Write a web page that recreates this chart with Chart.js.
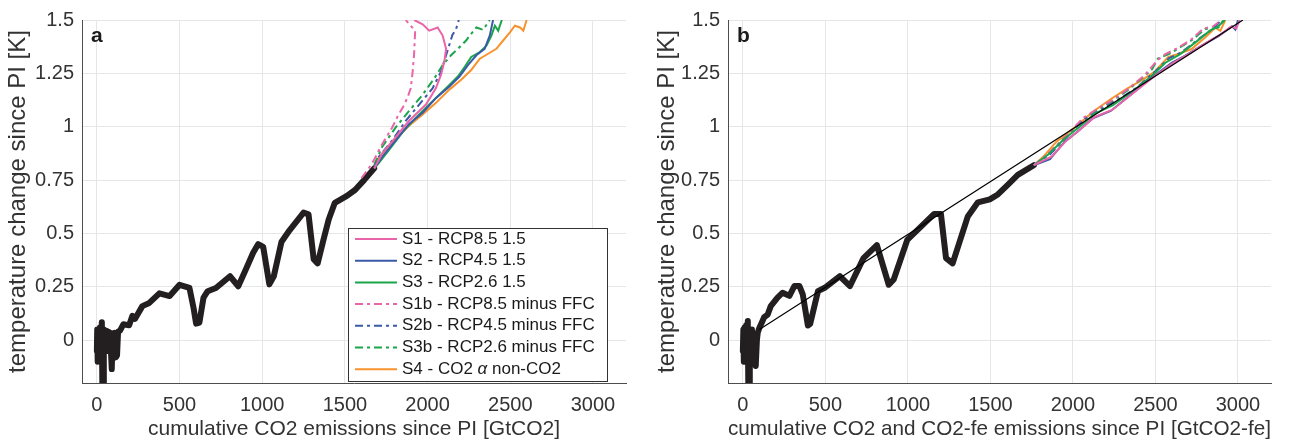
<!DOCTYPE html>
<html>
<head>
<meta charset="utf-8">
<script src="https://cdn.jsdelivr.net/npm/chart.js@4.4.1/dist/chart.umd.min.js"></script>
<style>
  body { margin: 0; background: #fff; width: 1294px; height: 444px; overflow: hidden; position: relative; }
  .panel { position: absolute; top: 0; height: 444px; }
  #panelA { left: 0; width: 646px; }
  #panelB { left: 652px; width: 642px; }
</style>
</head>
<body>
<div class="panel" id="panelA"><canvas id="chartA"></canvas></div>
<div class="panel" id="panelB"><canvas id="chartB"></canvas></div>
<script>
// axes
const xTicks = [0, 500, 1000, 1500, 2000, 2500, 3000];
const xTickLabels = ['0', '500', '1000', '1500', '2000', '2500', '3000'];
const yTicks = [0, 0.25, 0.5, 0.75, 1, 1.25, 1.5];
const yTickLabels = ['0', '0.25', '0.5', '0.75', '1', '1.25', '1.5'];
const xMin = -90, xMax = 3200, yMin = -0.2, yMax = 1.5;

const seriesNames = [
  'S1 - RCP8.5 1.5', 'S2 - RCP4.5 1.5', 'S3 - RCP2.6 1.5',
  'S1b - RCP8.5 minus FFC', 'S2b - RCP4.5 minus FFC', 'S3b - RCP2.6 minus FFC',
  'S4 - CO2 α non-CO2'
];

// panel a : historical (GtCO2, K)
const histA = [[0,-0.05],[2,0.05],[5,-0.1],[8,0.04],[12,-0.09],[18,0.06],[24,-0.02],[30,0.085],[33,-0.2],[38,-0.2],
  [42,0.05],[50,-0.02],[58,0.045],[63,-0.05],[70,0.04],[80,0.035],[90,-0.135],[95,0.03],[105,0.035],[115,-0.08],
  [122,-0.07],[128,0.04],[140,0.045],[160,0.075],[195,0.07],[215,0.115],[230,0.1],[275,0.16],[317,0.175],[378,0.22],
  [440,0.207],[500,0.26],[560,0.245],[585,0.15],[600,0.078],[620,0.083],[645,0.2],[670,0.23],[720,0.245],[805,0.3],
  [855,0.253],[900,0.33],[945,0.41],[975,0.45],[1006,0.437],[1043,0.262],[1070,0.3],[1116,0.46],[1165,0.515],[1250,0.598],
  [1280,0.59],[1311,0.38],[1335,0.36],[1370,0.47],[1402,0.566],[1439,0.644],[1512,0.676],[1561,0.704],[1616,0.75],[1677,0.805]];

const s1A = [[1677,0.805],[1725,0.874],[1807,0.951],[1888,1.028],[1990,1.104],[2050,1.18],[2081,1.243],[2101,1.304],
  [2112,1.365],[2091,1.427],[2061,1.465],[2010,1.45],[1970,1.48],[1919,1.5]];
const s2A = [[1677,0.805],[1725,0.859],[1807,0.936],[1888,1.013],[1970,1.066],[2051,1.135],[2132,1.189],[2193,1.235],
  [2244,1.289],[2295,1.335],[2345,1.365],[2376,1.427],[2396,1.5]];
const s3A = [[1677,0.805],[1695,0.82],[1766,0.89],[1848,0.974],[1929,1.043],[2010,1.104],[2071,1.15],[2132,1.196],
  [2183,1.235],[2224,1.28],[2264,1.327],[2316,1.35],[2356,1.38],[2386,1.427],[2407,1.473],[2427,1.45],[2449,1.5]];
const s1bA = [[1600,0.76],[1640,0.8],[1680,0.85],[1715,0.905],[1750,0.95],[1786,0.997],[1820,1.05],[1857,1.1],
  [1880,1.14],[1898,1.18],[1910,1.26],[1918,1.335],[1922,1.4],[1925,1.45],[1898,1.473],[1868,1.5]];
const s2bA = [[1677,0.805],[1705,0.859],[1786,0.936],[1868,1.028],[1949,1.104],[2030,1.18],[2081,1.258],[2112,1.335],
  [2150,1.43],[2172,1.457],[2189,1.5]];
const s3bA = [[1677,0.82],[1725,0.905],[1807,0.997],[1888,1.074],[1970,1.15],[2041,1.227],[2091,1.289],[2142,1.335],
  [2183,1.365],[2233,1.404],[2255,1.427],[2295,1.465],[2336,1.454],[2376,1.5]];
const s4A = [[1677,0.828],[1725,0.874],[1807,0.943],[1888,1.005],[1970,1.058],[2051,1.112],[2132,1.174],[2203,1.22],
  [2264,1.266],[2316,1.319],[2366,1.342],[2416,1.365],[2457,1.404],[2498,1.442],[2528,1.473],[2559,1.465],[2579,1.45],[2599,1.5]];

// panel b : historical (GtCO2-fe, K)
const histB = [[0,-0.05],[3,0.05],[6,-0.1],[10,0.06],[15,-0.08],[20,0.07],[25,-0.05],[30,0.09],[33,-0.2],[38,-0.2],
  [42,0.05],[50,-0.1],[55,0.05],[62,-0.05],[70,0.03],[78,-0.12],[85,0.0],[90,0.035],[98,0.054],[129,0.108],
  [150,0.12],[169,0.16],[210,0.2],[241,0.223],[282,0.208],[312,0.254],[343,0.254],[363,0.215],[394,0.069],[408,0.077],[455,0.23],
  [496,0.246],[588,0.3],[649,0.254],[731,0.385],[812,0.446],[884,0.26],[914,0.285],[996,0.47],[1098,0.546],[1159,0.592],
  [1200,0.592],[1231,0.385],[1271,0.36],[1363,0.58],[1424,0.646],[1496,0.66],[1545,0.683],[1605,0.728],[1666,0.775],[1763,0.82]];
const fitB = [[100,0.05],[3030,1.5]];

const s1B = [[1763,0.82],[1870,0.86],[1960,0.935],[2040,0.985],[2130,1.045],[2240,1.08],[2360,1.155],[2500,1.24],
  [2610,1.3],[2690,1.335],[2790,1.385],[2890,1.43],[2960,1.47],[2990,1.46],[3010,1.5]];
const s2B = [[1763,0.82],[1861,0.848],[1950,0.93],[2025,0.975],[2120,1.04],[2229,1.074],[2350,1.15],[2494,1.24],
  [2600,1.3],[2678,1.332],[2780,1.38],[2882,1.424],[2964,1.47],[2984,1.455],[3000,1.5]];
const s3B = [[1763,0.82],[1850,0.87],[1950,0.945],[2040,1.0],[2130,1.06],[2240,1.1],[2360,1.165],[2480,1.24],
  [2560,1.3],[2650,1.34],[2750,1.4],[2830,1.45],[2880,1.47],[2920,1.5]];
const s1bB = [[1763,0.82],[1850,0.875],[1950,0.95],[2060,1.04],[2150,1.085],[2229,1.12],[2330,1.175],[2433,1.24],
  [2510,1.31],[2560,1.34],[2637,1.37],[2719,1.41],[2790,1.46],[2850,1.47],[2900,1.5]];
const s2bB = [[1763,0.82],[1860,0.87],[1960,0.95],[2060,1.03],[2160,1.075],[2260,1.12],[2380,1.18],[2500,1.26],
  [2580,1.32],[2660,1.35],[2760,1.41],[2850,1.46],[2900,1.5]];
const s3bB = [[1763,0.82],[1850,0.87],[1950,0.95],[2066,1.04],[2150,1.08],[2229,1.115],[2330,1.17],[2433,1.237],
  [2480,1.27],[2515,1.32],[2580,1.34],[2637,1.366],[2719,1.405],[2801,1.458],[2850,1.46],[2882,1.466],[2913,1.5]];
const s4B = [[1763,0.82],[1820,0.859],[1900,0.93],[2000,0.99],[2127,1.074],[2230,1.13],[2331,1.18],[2420,1.22],
  [2494,1.257],[2576,1.326],[2637,1.341],[2719,1.364],[2801,1.418],[2862,1.464],[2893,1.449],[2923,1.5]];

// styles
const colors = ['#ea64a8', '#3a5aa8', '#1aa54b', '#ea64a8', '#3a5aa8', '#1aa54b', '#f7922c'];
const dashes = [[], [], [], [8, 4, 3, 4], [8, 4, 3, 4], [8, 4, 3, 4], []];
const FONT = '"Liberation Sans", Arial, Helvetica, sans-serif';
const TXT = '#333333';

const pts = arr => arr.map(p => ({ x: p[0], y: p[1] }));

function scenarioSets(list) {
  return list.map((d, i) => ({
    label: seriesNames[i],
    data: pts(d),
    showLine: true,
    borderColor: colors[i],
    backgroundColor: colors[i],
    borderWidth: 2,
    borderDash: dashes[i],
    pointRadius: 0,
    tension: 0,
    order: 1,
  }));
}

function histSet(d) {
  return {
    label: 'historical',
    data: pts(d),
    showLine: true,
    borderColor: '#231f20',
    borderWidth: 6,
    borderJoinStyle: 'round',
    borderCapStyle: 'round',
    pointRadius: 0,
    tension: 0,
    order: 2,
  };
}

const panelLetter = {
  id: 'panelLetter',
  afterDraw(chart, args, opts) {
    const { ctx, chartArea } = chart;
    ctx.save();
    ctx.font = 'bold 21px ' + FONT;
    ctx.fillStyle = '#1a1a1a';
    ctx.textBaseline = 'alphabetic';
    ctx.fillText(opts.text, chartArea.left + 9, chartArea.top + 22);
    ctx.restore();
  }
};

// legend box inside axes, like matlab
const boxLegend = {
  id: 'boxLegend',
  afterDraw(chart, args, opts) {
    if (!opts.show) return;
    const { ctx, chartArea } = chart;
    const x0 = chartArea.left + 266, y0 = chartArea.top + 208, w = 259, h = 153, rowH = 21.7;
    ctx.save();
    ctx.fillStyle = '#fff';
    ctx.fillRect(x0, y0, w, h);
    ctx.strokeStyle = '#333';
    ctx.lineWidth = 1;
    ctx.strokeRect(x0 + 0.5, y0 + 0.5, w, h);
    seriesNames.forEach((name, i) => {
      const y = y0 + 11 + rowH * i;
      ctx.beginPath();
      ctx.setLineDash(dashes[i]);
      ctx.strokeStyle = colors[i];
      ctx.lineWidth = 2;
      ctx.moveTo(x0 + 7, y);
      ctx.lineTo(x0 + 49, y);
      ctx.stroke();
      ctx.setLineDash([]);
      ctx.fillStyle = '#1a1a1a';
      ctx.textBaseline = 'middle';
      let x = x0 + 54;
      name.split(/(α)/).forEach(part => {
        ctx.font = (part === 'α' ? 'italic ' : '') + '17px ' + FONT;
        ctx.fillText(part, x, y);
        x += ctx.measureText(part).width;
      });
    });
    ctx.restore();
  }
};

function makeOptions(xTitle, letter, yWidth, padRight, yTitlePad, legend) {
  return {
    responsive: true,
    maintainAspectRatio: false,
    animation: false,
    layout: { padding: { top: 14, right: padRight, left: 0, bottom: 0 } },
    plugins: {
      legend: { display: false },
      tooltip: { enabled: false },
      panelLetter: { text: letter },
      boxLegend: { show: legend },
    },
    scales: {
      x: {
        type: 'linear',
        min: xMin,
        max: xMax,
        afterBuildTicks: s => { s.ticks = xTicks.map(v => ({ value: v })); },
        afterFit: s => { s.height = 61; },
        grid: { color: '#e6e6e6', drawTicks: false },
        border: { color: '#4d4d4d' },
        ticks: {
          padding: 10,
          color: TXT,
          font: { family: FONT, size: 20 },
          maxRotation: 0,
          callback: (v, i) => xTickLabels[i],
        },
        title: {
          display: true,
          text: xTitle,
          color: TXT,
          font: { family: FONT, size: 21 },
          padding: { top: 0, bottom: 2 },
        },
      },
      y: {
        type: 'linear',
        min: yMin,
        max: yMax,
        afterBuildTicks: s => { s.ticks = yTicks.map(v => ({ value: v })); },
        afterFit: s => { s.width = yWidth; },
        grid: { color: '#e6e6e6', drawTicks: false },
        border: { color: '#4d4d4d' },
        ticks: {
          padding: 8,
          color: TXT,
          font: { family: FONT, size: 20 },
          callback: (v, i) => yTickLabels[i],
        },
        title: {
          display: true,
          text: 'temperature change since PI [K]',
          color: TXT,
          font: { family: FONT, size: 24 },
          padding: { top: yTitlePad, bottom: 0 },
        },
      },
    },
  };
}

new Chart(document.getElementById('chartA'), {
  type: 'scatter',
  data: { datasets: [...scenarioSets([s1A, s2A, s3A, s1bA, s2bA, s3bA, s4A]), histSet(histA)] },
  options: makeOptions('cumulative CO2 emissions since PI [GtCO2]', 'a', 82, 20, 4, true),
  plugins: [panelLetter, boxLegend],
});

const fitSet = {
  label: 'fit',
  data: pts(fitB),
  showLine: true,
  borderColor: '#000',
  borderWidth: 1.2,
  pointRadius: 0,
  order: 0,
};

new Chart(document.getElementById('chartB'), {
  type: 'scatter',
  data: { datasets: [fitSet, ...scenarioSets([s1B, s2B, s3B, s1bB, s2bB, s3bB, s4B]), histSet(histB)] },
  options: makeOptions('cumulative CO2 and CO2-fe emissions since PI [GtCO2-fe]', 'b', 76, 23, 1, false),
  plugins: [panelLetter, boxLegend],
});
</script>
</body>
</html>
